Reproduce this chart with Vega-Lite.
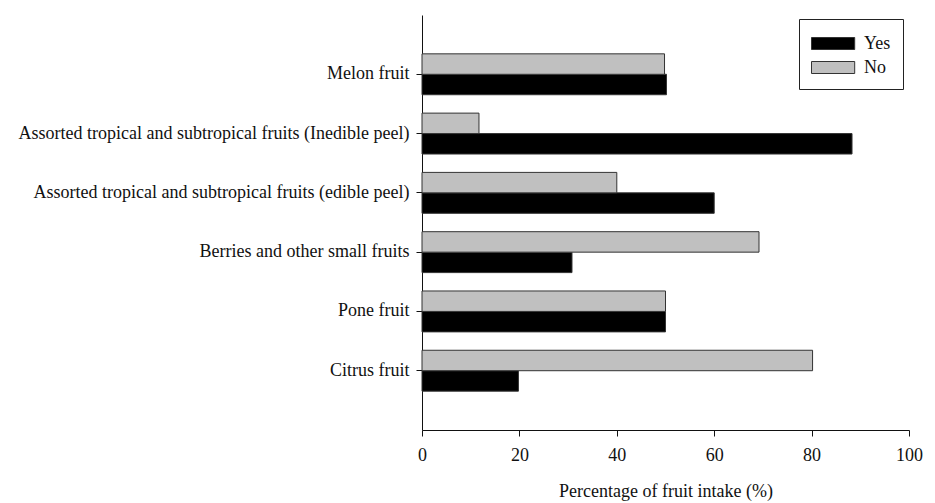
{
  "$schema": "https://vega.github.io/schema/vega-lite/v6.json",
  "autosize": "none",
  "width": 487,
  "height": 415,
  "padding": {"left": 422, "top": 15, "right": 26, "bottom": 73},
  "background": "white",
  "config": {
    "font": "Liberation Serif",
    "view": {"stroke": null},
    "axis": {"labelFont": "Liberation Serif", "titleFont": "Liberation Serif", "labelColor": "#111", "titleColor": "#111", "domainColor": "#111", "tickColor": "#111", "grid": false}
  },
  "data": {
    "values": [
      {"fruit": "Melon fruit", "answer": "Yes", "pct": 50.2},
      {"fruit": "Melon fruit", "answer": "No", "pct": 49.8},
      {"fruit": "Assorted tropical and subtropical fruits (Inedible peel)", "answer": "Yes", "pct": 88.3},
      {"fruit": "Assorted tropical and subtropical fruits (Inedible peel)", "answer": "No", "pct": 11.7},
      {"fruit": "Assorted tropical and subtropical fruits (edible peel)", "answer": "Yes", "pct": 60.0},
      {"fruit": "Assorted tropical and subtropical fruits (edible peel)", "answer": "No", "pct": 40.0},
      {"fruit": "Berries and other small fruits", "answer": "Yes", "pct": 30.8},
      {"fruit": "Berries and other small fruits", "answer": "No", "pct": 69.2},
      {"fruit": "Pone fruit", "answer": "Yes", "pct": 50.0},
      {"fruit": "Pone fruit", "answer": "No", "pct": 50.0},
      {"fruit": "Citrus fruit", "answer": "Yes", "pct": 19.8},
      {"fruit": "Citrus fruit", "answer": "No", "pct": 80.2}
    ]
  },
  "mark": {"type": "bar", "stroke": "#333", "strokeWidth": 1},
  "encoding": {
    "y": {
      "field": "fruit",
      "type": "nominal",
      "sort": ["Melon fruit", "Assorted tropical and subtropical fruits (Inedible peel)", "Assorted tropical and subtropical fruits (edible peel)", "Berries and other small fruits", "Pone fruit", "Citrus fruit"],
      "scale": {"paddingInner": 0.31, "paddingOuter": 0.655},
      "axis": {"title": null, "labelFontSize": 18, "labelLimit": 500, "tickSize": 6, "labelPadding": 7, "domainWidth": 1}
    },
    "yOffset": {"field": "answer", "type": "nominal", "sort": ["No", "Yes"], "scale": {"paddingInner": 0, "paddingOuter": 0}},
    "x": {
      "field": "pct",
      "type": "quantitative",
      "scale": {"domain": [0, 100], "nice": false},
      "axis": {"title": "Percentage of fruit intake (%)", "values": [0, 20, 40, 60, 80, 100], "labelFontSize": 18, "titleFontSize": 18, "titleFontWeight": "normal", "tickSize": 6, "labelPadding": 10, "titlePadding": 18, "labelFlush": false}
    },
    "color": {
      "field": "answer",
      "type": "nominal",
      "sort": ["Yes", "No"],
      "scale": {"domain": ["Yes", "No"], "range": ["#000000", "#c0c0c0"]},
      "legend": {
        "title": null,
        "orient": "none",
        "legendX": 377,
        "legendY": 4,
        "direction": "vertical",
        "strokeColor": "#222",
        "padding": 12,
        "symbolType": "M-1,-0.5H2.6V0.5H-1Z",
        "symbolSize": 576,
        "symbolStrokeColor": "#333",
        "symbolStrokeWidth": 1,
        "labelFontSize": 18,
        "labelFont": "Liberation Serif",
        "labelColor": "#111",
        "labelOffset": 28,
        "rowPadding": 2,
        "symbolOpacity": 1
      }
    }
  }
}
